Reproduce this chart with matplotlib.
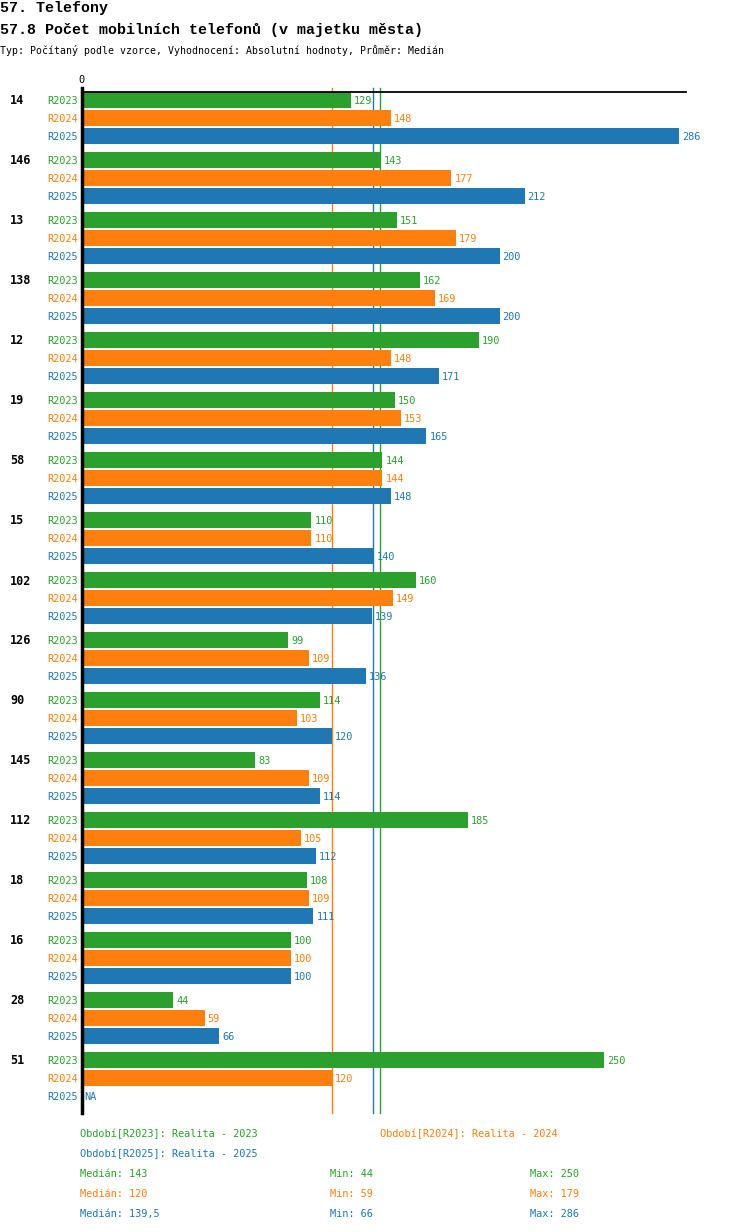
import matplotlib
matplotlib.use("Agg")
import matplotlib.pyplot as plt
import numpy as np

groups = ["14", "146", "13", "138", "12", "19", "58", "15", "102", "126", "90", "145", "112", "18", "16", "28", "51"]
series = ["R2023", "R2024", "R2025"]
r2023 = [129, 143, 151, 162, 190, 150, 144, 110, 160, 99, 114, 83, 185, 108, 100, 44, 250]
r2024 = [148, 177, 179, 169, 148, 153, 144, 110, 149, 109, 103, 109, 105, 109, 100, 59, 120]
r2025 = [286, 212, 200, 200, 171, 165, 148, 140, 139, 136, 120, 114, 112, 111, 100, 66, None]
legend_names = ["Období[R2023]: Realita - 2023", "Období[R2024]: Realita - 2024", "Období[R2025]: Realita - 2025"]
colors = ["#2ca02c", "#ff7f0e", "#1f77b4"]

title1 = "57. Telefony"
title2 = "57.8 Počet mobilních telefonů (v majetku města)"
subtitle = "Typ: Počítaný podle vzorce, Vyhodnocení: Absolutní hodnoty, Průměr: Medián"

W, H = 750, 1232
fig = plt.figure(figsize=(W / 100, H / 100), dpi=100)

def fx(px):
    return px / W

def fy(py):
    return 1 - py / H

MONO = ["DejaVu Sans Mono"]
TMONO = ["Liberation Mono", "DejaVu Sans Mono"]

# layout (pixels)
ax_left, ax_right, ax_top, ax_bottom = 81.5, 686, 92, 1113
scale = 2.09
ax = fig.add_axes([fx(ax_left), fy(ax_bottom), (ax_right - ax_left) / W, (ax_bottom - ax_top) / H])
ax.set_xlim(0, (ax_right - ax_left) / scale)
ax.set_ylim(ax_bottom - ax_top, 0)
ax.axis("off")

data = [r2023, r2024, r2025]
group_pitch, bar_pitch, bar_h, first = 60, 18, 15.5, 8

for s, vals in enumerate(data):
    ys = [first + g * group_pitch + s * bar_pitch for g in range(len(groups))]
    vv = [v if v is not None else 0 for v in vals]
    ax.barh(ys, vv, height=bar_h, color=colors[s], zorder=2)
    for y, v in zip(ys, vals):
        txt = "NA" if v is None else str(v)
        xv = 0 if v is None else v
        ax.annotate(txt, (xv, y), xytext=(3, -1), textcoords="offset pixels",
                    va="center", ha="left", color=colors[s], fontsize=7.4,
                    family=MONO, zorder=3)
        ax.annotate(series[s], (0, y), xytext=(-3.5, -1), textcoords="offset pixels",
                    va="center", ha="right", color=colors[s], fontsize=7.4,
                    family=MONO, annotation_clip=False)

# group labels
for g, name in enumerate(groups):
    y = ax_top + first + g * group_pitch
    fig.text(fx(10), fy(y + 1), name, ha="left", va="center", fontsize=8.5,
             fontweight="bold", family=MONO)

# median lines
meds = []
for vals in data:
    arr = np.array([v for v in vals if v is not None], dtype=float)
    meds.append(arr)
for s, arr in enumerate(meds):
    ax.axvline(np.median(arr), ymin=0, ymax=1 + 4 / (ax_bottom - ax_top),
               color=colors[s], lw=1, zorder=1, clip_on=False)

# axes lines
ax.plot([0, 0], [ax_bottom - ax_top, -4], color="black", lw=2.5, clip_on=False, zorder=4)
ax.plot([0, ax.get_xlim()[1]], [0, 0], color="black", lw=1.3, clip_on=False, zorder=4)
ax.annotate("0", (0, 0), xytext=(0, 12), textcoords="offset pixels", ha="center",
            va="center", fontsize=7.4, family=MONO, annotation_clip=False)

# titles
fig.text(fx(0), fy(8), title1, ha="left", va="center", fontsize=10.8, fontweight="bold", family=TMONO)
fig.text(fx(0), fy(30), title2, ha="left", va="center", fontsize=10.8, fontweight="bold", family=TMONO)
fig.text(fx(0), fy(51), subtitle, ha="left", va="center", fontsize=7.1, family=MONO)

# legend
fig.text(fx(80), fy(1134), legend_names[0], color=colors[0], ha="left", va="center", fontsize=7.4, family=MONO)
fig.text(fx(380), fy(1134), legend_names[1], color=colors[1], ha="left", va="center", fontsize=7.4, family=MONO)
fig.text(fx(80), fy(1154), legend_names[2], color=colors[2], ha="left", va="center", fontsize=7.4, family=MONO)

def fmt(v):
    if float(v).is_integer():
        return str(int(v))
    return ("%g" % v).replace(".", ",")

for s, arr in enumerate(meds):
    y = 1174 + s * 20
    fig.text(fx(80), fy(y), "Medián: " + fmt(np.median(arr)), color=colors[s], ha="left", va="center", fontsize=7.4, family=MONO)
    fig.text(fx(330), fy(y), "Min: " + fmt(arr.min()), color=colors[s], ha="left", va="center", fontsize=7.4, family=MONO)
    fig.text(fx(530), fy(y), "Max: " + fmt(arr.max()), color=colors[s], ha="left", va="center", fontsize=7.4, family=MONO)

fig.savefig("out.png", dpi=100, facecolor="white")
